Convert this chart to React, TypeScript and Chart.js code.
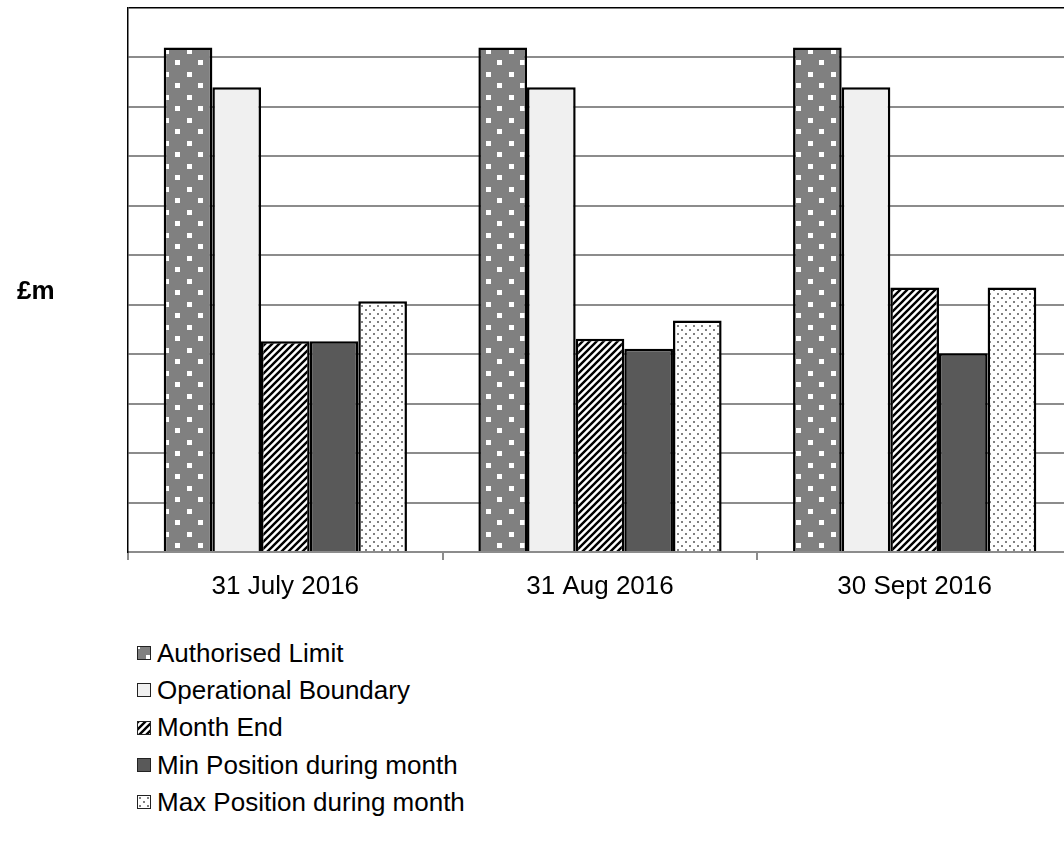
import React, { useEffect, useRef } from "react";
import { Chart, registerables } from "chart.js";

Chart.register(...registerables);

const categories = ["31 July 2016", "31 Aug 2016", "30 Sept 2016"];
const seriesNames = [
  "Authorised Limit",
  "Operational Boundary",
  "Month End",
  "Min Position during month",
  "Max Position during month",
];
const authorisedLimit = [1020, 1020, 1020];
const operationalBoundary = [940, 940, 940];
const monthEnd = [426, 431, 535];
const minPosition = [426, 411, 402];
const maxPosition = [507, 468, 535];
const yMax = 1100;
const yStep = 100;

const FONT = "'Liberation Sans', Arial, sans-serif";

function makeTile(kind: string): HTMLCanvasElement {
  const c = document.createElement("canvas");
  if (kind === "authorised") {
    c.width = 23;
    c.height = 23;
    const g = c.getContext("2d")!;
    g.fillStyle = "#808080";
    g.fillRect(0, 0, 23, 23);
    g.fillStyle = "#ffffff";
    g.fillRect(3, 3, 5, 5);
    g.fillRect(14, 14, 5, 5);
  } else if (kind === "operational") {
    c.width = 4;
    c.height = 4;
    const g = c.getContext("2d")!;
    g.fillStyle = "#f0f0f0";
    g.fillRect(0, 0, 4, 4);
  } else if (kind === "monthEnd") {
    const s = 7;
    c.width = s;
    c.height = s;
    const g = c.getContext("2d")!;
    g.fillStyle = "#ffffff";
    g.fillRect(0, 0, s, s);
    g.strokeStyle = "#000000";
    g.lineWidth = 2.4;
    g.lineCap = "square";
    g.beginPath();
    g.moveTo(-s / 2, s / 2);
    g.lineTo(s / 2, -s / 2);
    g.moveTo(-s / 2, s * 1.5);
    g.lineTo(s * 1.5, -s / 2);
    g.moveTo(s / 2, s * 1.5);
    g.lineTo(s * 1.5, s / 2);
    g.stroke();
  } else if (kind === "min") {
    c.width = 4;
    c.height = 4;
    const g = c.getContext("2d")!;
    g.fillStyle = "#595959";
    g.fillRect(0, 0, 4, 4);
  } else {
    c.width = 8;
    c.height = 8;
    const g = c.getContext("2d")!;
    g.fillStyle = "#ffffff";
    g.fillRect(0, 0, 8, 8);
    g.fillStyle = "#808080";
    g.fillRect(1, 1, 2, 2);
    g.fillRect(5, 5, 2, 2);
  }
  return c;
}

const tileKinds = ["authorised", "operational", "monthEnd", "min", "max"];

export default function App() {
  const canvasRef = useRef<HTMLCanvasElement | null>(null);
  const legendRef = useRef<HTMLDivElement | null>(null);

  useEffect(() => {
    const canvas = canvasRef.current!;
    const ctx = canvas.getContext("2d")!;
    const tiles = tileKinds.map(makeTile);
    const patterns = tiles.map((t) => ctx.createPattern(t, "repeat")!);
    const values = [authorisedLimit, operationalBoundary, monthEnd, minPosition, maxPosition];

    if (legendRef.current) {
      const sw = legendRef.current.querySelectorAll<HTMLDivElement>("[data-sw]");
      sw.forEach((el, i) => {
        el.style.backgroundImage = `url(${tiles[i].toDataURL()})`;
      });
    }

    const chart = new Chart(canvas, {
      type: "bar",
      data: {
        labels: categories,
        datasets: seriesNames.map((name, i) => ({
          label: name,
          data: values[i],
          backgroundColor: patterns[i] as any,
          borderColor: "#000000",
          borderWidth: 2.5,
          borderSkipped: "bottom",
          barPercentage: 1,
          categoryPercentage: 0.773,
        })),
      },
      options: {
        responsive: false,
        animation: false,
        devicePixelRatio: 1,
        layout: { padding: { left: 128, top: 8, right: 0, bottom: 8 } },
        plugins: {
          legend: { display: false },
          tooltip: { enabled: false },
        },
        scales: {
          x: {
            afterFit: (axis: any) => {
              axis.height = 60;
            },
            grid: {
              display: true,
              drawOnChartArea: false,
              drawTicks: true,
              tickLength: 8,
              color: "#8c8c8c",
              lineWidth: 2,
              offset: true,
            },
            border: { display: true, color: "#8c8c8c", width: 2 },
            ticks: {
              color: "#000000",
              padding: 11,
              font: { family: FONT, size: 26 },
              maxRotation: 0,
            },
          },
          y: {
            min: 0,
            max: yMax,
            ticks: { display: false, stepSize: yStep },
            grid: {
              drawTicks: false,
              color: (c: any) => (c.tick && c.tick.value === yMax ? "#000000" : "#8c8c8c"),
              lineWidth: (c: any) => (c.tick && c.tick.value === yMax ? 1.5 : 2),
            },
            border: { display: true, color: "#000000", width: 1.5 },
          },
        },
      },
    });
    return () => chart.destroy();
  }, []);

  const rowH = 37.33;
  return (
    <div
      style={{
        position: "fixed",
        left: 0,
        top: 0,
        width: 1064,
        height: 846,
        overflow: "hidden",
        background: "#ffffff",
        fontFamily: FONT,
      }}
    >
      <canvas
        ref={canvasRef}
        width={1072}
        height={620}
        style={{ position: "absolute", left: 0, top: 0, width: 1072, height: 620 }}
      />
      <div
        style={{
          position: "absolute",
          left: 17,
          top: 290,
          transform: "translateY(-50%)",
          fontWeight: "bold",
          fontSize: 26,
          lineHeight: "30px",
          color: "#000",
        }}
      >
        £m
      </div>
      <div ref={legendRef} style={{ position: "absolute", left: 137, top: 634.5 }}>
        {seriesNames.map((name, i) => (
          <div
            key={name}
            style={{
              height: rowH,
              display: "flex",
              alignItems: "center",
              fontSize: 26,
              color: "#000",
              whiteSpace: "nowrap",
            }}
          >
            <div
              data-sw="1"
              style={{
                width: 14,
                height: 14,
                border: "1.5px solid #222",
                marginRight: 6,
                boxSizing: "border-box",
                backgroundRepeat: "repeat",
                backgroundPosition: i === 0 ? "-6px -6px" : "0 0",
              }}
            />
            <span>{name}</span>
          </div>
        ))}
      </div>
    </div>
  );
}
